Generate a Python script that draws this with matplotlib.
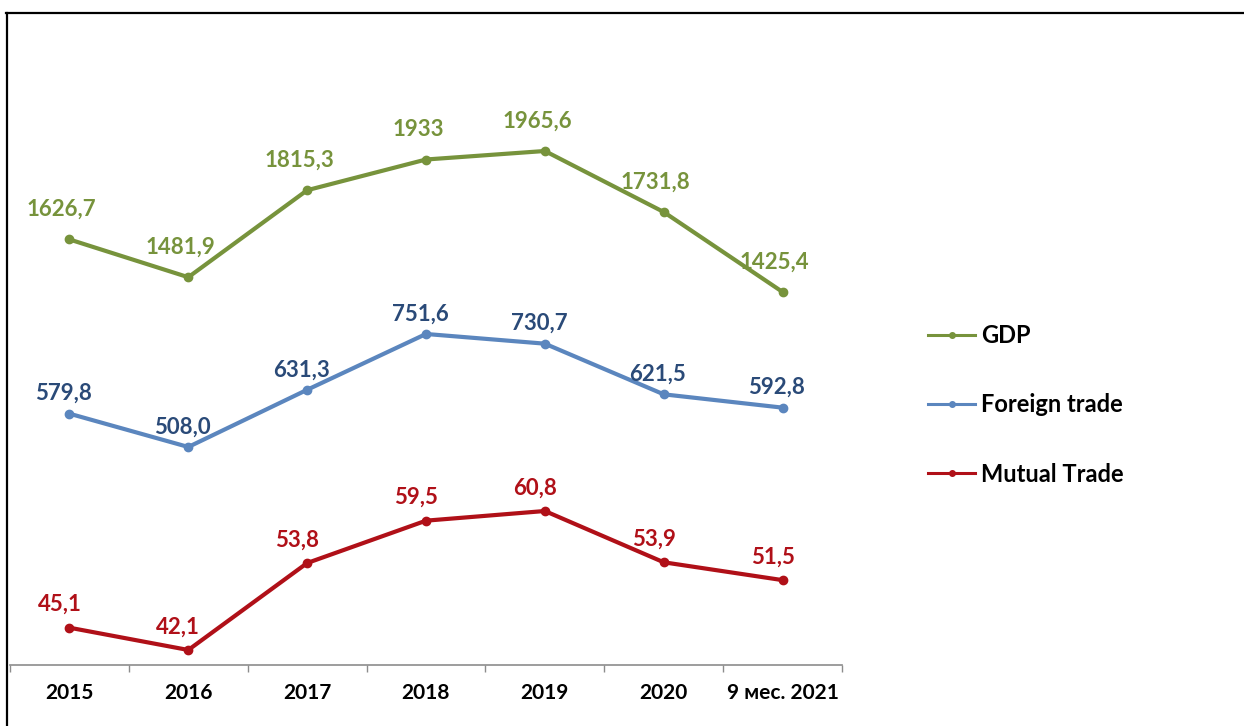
import matplotlib
matplotlib.use("Agg")
import matplotlib.pyplot as plt
from matplotlib.lines import Line2D

# данные
periods = ["2015", "2016", "2017", "2018", "2019", "2020", "9 мес. 2021"]
gdp = [1626.7, 1481.9, 1815.3, 1933, 1965.6, 1731.8, 1425.4]
foreign_trade = [579.8, 508.0, 631.3, 751.6, 730.7, 621.5, 592.8]
mutual_trade = [45.1, 42.1, 53.8, 59.5, 60.8, 53.9, 51.5]

plt.rcParams["font.family"] = ["Lato", "DejaVu Sans"]
plt.rcParams["font.weight"] = "bold"

W, H = 1244, 726
fig = plt.figure(figsize=(W / 100, H / 100), dpi=100)

# оси в пикселях
x0, x1, yb, yt = 10, 842, 665, 100
ax = fig.add_axes([x0 / W, 1 - yb / H, (x1 - x0) / W, (yb - yt) / H])
ax2 = ax.twinx()
ax3 = ax.twinx()

x = [i + 0.5 for i in range(len(periods))]

def fmt(v, is_int=False):
    if float(v).is_integer() and is_int:
        return str(int(v))
    return f"{v:.1f}".replace(".", ",")

series = [
    (ax, gdp, "GDP", "#77933C", "#77933C", (-4, 2161), (-8, 30), True),
    (ax2, foreign_trade, "Foreign trade", "#5B86BE", "#2A4A78", (38, 1256), (-6, 20), False),
    (ax3, mutual_trade, "Mutual Trade", "#B01018", "#B01018", (40.08, 116.1), (-10, 23), False),
]

handles = []
for a, vals, name, lc, tc, lim, off, is_int in series:
    a.plot(x, vals, color=lc, lw=3, marker="o", ms=6)
    handles.append(Line2D([], [], color=lc, lw=2.2, marker="o", ms=4, label=name))
    a.set_ylim(*lim)
    a.set_xlim(0, len(periods))
    for xi, v in zip(x, vals):
        a.annotate(fmt(v, is_int), (xi, v), xytext=off, textcoords="offset pixels",
                   ha="center", va="center", color=tc, fontsize=16, fontweight="bold")

for a in (ax, ax2, ax3):
    for s in ("top", "right", "left"):
        a.spines[s].set_visible(False)
    a.set_yticks([])
ax2.spines["bottom"].set_visible(False)
ax3.spines["bottom"].set_visible(False)

ax.spines["bottom"].set_color("#8C8C8C")
ax.spines["bottom"].set_linewidth(1.2)
ax.set_xticks(range(len(periods) + 1))
ax.set_xticklabels([])
ax.tick_params(axis="x", which="major", direction="out", length=5, color="#8C8C8C", width=1)
ax.set_xticks(x, minor=True)
ax.set_xticklabels(periods, minor=True, fontsize=15, fontweight="bold")
ax.tick_params(axis="x", which="minor", length=0, pad=13)

fig.legend(handles=handles, loc="center left",
           bbox_to_anchor=(928 / W, 1 - 405 / H), frameon=False,
           prop={"size": 17, "weight": "bold"}, handlelength=2.0,
           handletextpad=0.25, labelspacing=1.95, borderpad=0, borderaxespad=0)

# рамка
fig.add_artist(Line2D([6 / W, 1], [1 - 13 / H, 1 - 13 / H], color="black", lw=1.6))
fig.add_artist(Line2D([7 / W, 7 / W], [0, 1 - 13 / H], color="black", lw=1.6))

fig.savefig("out.png", dpi=100)
